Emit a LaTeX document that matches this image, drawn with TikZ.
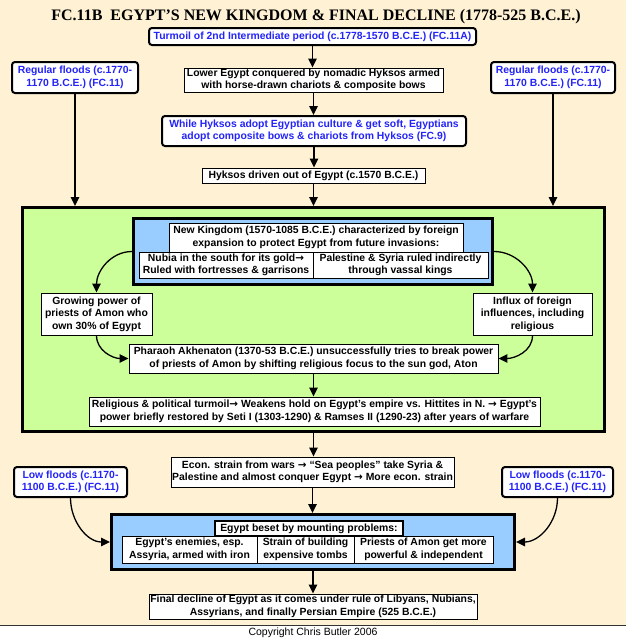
\documentclass[tikz,border=0pt]{standalone}
\usepackage{fontspec}
\setmainfont{Liberation Sans}
\newfontfamily\ttlfont{Liberation Serif}
\newfontfamily\arrfont{DejaVu Sans}
\newcommand\myarr{{\arrfont\bfseries →}}
\usetikzlibrary{arrows.meta}
\definecolor{cream}{RGB}{254,241,212}
\definecolor{lgreen}{RGB}{204,255,153}
\definecolor{lblue}{RGB}{153,204,255}
\definecolor{ftblue}{RGB}{35,35,250}
\begin{document}
\begin{tikzpicture}[x=1pt,y=-1pt,
  base/.style={align=center, inner sep=0pt, font=\fontsize{10.4}{12.5}\selectfont\bfseries},
  plain/.style={base, draw=black, line width=0.9pt, fill=white},
  rbox/.style={base, draw=black, line width=2pt, rounded corners=3pt, fill=white, text=ftblue},
  frame/.style={draw=black, line width=3pt, inner sep=0pt},
  arr/.style={-{Triangle[width=8.5pt,length=9pt]}, line width=1.3pt},
]
\useasboundingbox (0,0) rectangle (626,640);
\fill[cream] (0,0) rectangle (626,625);
\fill[white] (0,625) rectangle (626,640);
\draw[line width=0.8pt, black!80] (0,625) -- (626,625);

\node[font=\ttlfont\bfseries\fontsize{16}{18}\selectfont, inner sep=0pt] (title) at (316,16.5)
  {FC.11B\ \ EGYPT’S NEW KINGDOM \& FINAL DECLINE (1778-525 B.C.E.)};

% top chain
\node[rbox, minimum width=327pt, minimum height=17pt] (turmoil) at (312.5,36.5)
  {Turmoil of 2nd Intermediate period (c.1778-1570 B.C.E.) (FC.11A)};
\node[plain, minimum width=259pt, minimum height=24pt] (lower) at (313.5,80)
  {Lower Egypt conquered by nomadic Hyksos armed\\with horse-drawn chariots \& composite bows};
\node[rbox, minimum width=126pt, minimum height=31pt] (floodL) at (75,77.5)
  {Regular floods (c.1770-\\1170 B.C.E.) (FC.11)};
\node[rbox, minimum width=124pt, minimum height=31pt] (floodR) at (553,77.5)
  {Regular floods (c.1770-\\1170 B.C.E.) (FC.11)};
\node[rbox, minimum width=304pt, minimum height=30pt] (adopt) at (314,131)
  {While Hyksos adopt Egyptian culture \& get soft, Egyptians\\adopt composite bows \& chariots from Hyksos (FC.9)};
\node[plain, minimum width=223pt, minimum height=15pt] (driven) at (313.5,175.5)
  {Hyksos driven out of Egypt (c.1570 B.C.E.)};

% green frame
\node[frame, fill=lgreen, minimum width=582pt, minimum height=224pt] (green) at (313.5,319.5) {};
\node[frame, fill=lblue, minimum width=359pt, minimum height=66pt] (nk) at (313,251.5) {};
\node[plain, minimum width=294pt, minimum height=29pt] (nkhead) at (316,237.5)
  {New Kingdom (1570-1085 B.C.E.) characterized by foreign\\expansion to protect Egypt from future invasions:};
\node[plain, minimum width=174pt, minimum height=26pt] (nubia) at (226,265)
  {Nubia in the south for its gold\myarr\\Ruled with fortresses \& garrisons};
\node[plain, minimum width=175pt, minimum height=26pt] (palest) at (400.5,265)
  {Palestine \& Syria ruled indirectly\\through vassal kings};
\node[plain, minimum width=111pt, minimum height=42pt] (growing) at (96.5,314)
  {Growing power of\\priests of Amon who\\own 30\% of Egypt};
\node[plain, minimum width=119pt, minimum height=42pt] (influx) at (532.5,314)
  {Influx of foreign\\influences, including\\religious};
\node[plain, minimum width=369pt, minimum height=29pt] (pharaoh) at (313.5,358.5)
  {Pharaoh Akhenaton (1370-53 B.C.E.) unsuccessfully tries to break power\\of priests of Amon by shifting religious focus to the sun god, Aton};
\node[plain, minimum width=451pt, minimum height=29pt] (relig) at (314.5,411.5)
  {Religious \& political turmoil\myarr\ Weakens hold on Egypt’s empire vs. Hittites in N. \myarr\ Egypt’s\\power briefly restored by Seti I (1303-1290) \& Ramses II (1290-23) after years of warfare};

% lower part
\node[plain, minimum width=283pt, minimum height=30pt] (econ) at (312.5,472)
  {Econ. strain from wars \myarr\ “Sea peoples” take Syria \&\\Palestine and almost conquer Egypt \myarr\ More econ. strain};
\node[rbox, minimum width=113pt, minimum height=30pt] (lowL) at (70.5,482)
  {Low floods (c.1170-\\1100 B.C.E.) (FC.11)};
\node[rbox, minimum width=111pt, minimum height=30pt] (lowR) at (557.5,482)
  {Low floods (c.1170-\\1100 B.C.E.) (FC.11)};
\node[frame, fill=lblue, minimum width=403pt, minimum height=55pt] (beset) at (313,542) {};
\node[plain, line width=1.6pt, minimum width=188pt, minimum height=15pt] (besethead) at (309,528.5)
  {Egypt beset by mounting problems:};
\node[plain, minimum width=135pt, minimum height=27pt] (enemies) at (189.5,549.5)
  {Egypt’s enemies, esp.\\Assyria, armed with iron};
\node[plain, minimum width=97pt, minimum height=27pt] (tombs) at (305.5,549.5)
  {Strain of building\\expensive tombs};
\node[plain, minimum width=139pt, minimum height=27pt] (priests) at (423.5,549.5)
  {Priests of Amon get more\\powerful \& independent};
\node[plain, minimum width=328pt, minimum height=25pt] (final) at (313,606.5)
  {Final decline of Egypt as it comes under rule of Libyans, Nubians,\\Assyrians, and finally Persian Empire (525 B.C.E.)};

\node[font=\fontsize{10.5}{12}\selectfont, inner sep=0pt] (copy) at (313,633)
  {Copyright Chris Butler 2006};

% connectors
\draw[arr] (turmoil.south) -- (turmoil.south |- lower.north);
\draw[arr] (lower.south) -- (lower.south |- adopt.north);
\draw[arr] (adopt.south) -- (adopt.south |- driven.north);
\draw[arr] (driven.south) -- (driven.south |- green.north);
\draw[arr] (floodL.south) -- (floodL.south |- green.north);
\draw[arr] (floodR.south) -- (floodR.south |- green.north);
\draw[arr] (nk.west) to[out=180,in=90] (growing.north);
\draw[arr] (nk.east) to[out=0,in=90] (influx.north);
\draw[arr] (growing.south) to[out=-90,in=180] (pharaoh.west);
\draw[arr] (influx.south) to[out=-90,in=0] (pharaoh.east);
\draw[arr] (pharaoh.south) -- (pharaoh.south |- relig.north);
\draw[arr] (green.south) -- (green.south |- econ.north);
\draw[arr] (econ.south) -- (econ.south |- beset.north);
\draw[arr] (lowL.south) to[out=-90,in=180] (beset.west);
\draw[arr] (lowR.south) to[out=-90,in=0] (beset.east);
\draw[arr] (beset.south) -- (beset.south |- final.north);
\end{tikzpicture}
\end{document}
